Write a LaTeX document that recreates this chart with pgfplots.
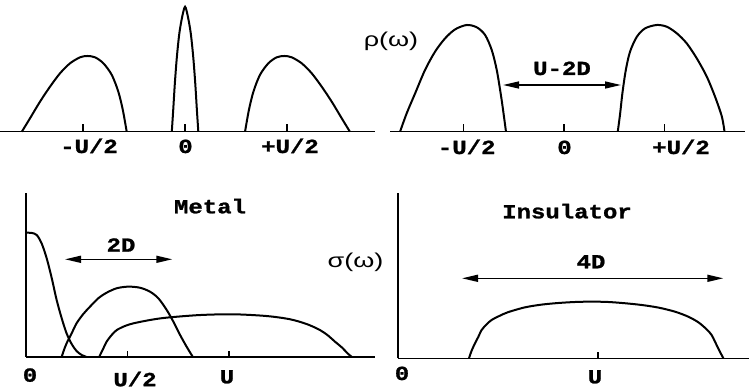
\documentclass[border=0pt]{standalone}
\usepackage{pgfplots}
\pgfplotsset{compat=1.18}
\usetikzlibrary{arrows.meta}
\usepackage{fontspec}
\setmainfont{Liberation Serif}
\newfontfamily\labfont{Liberation Mono}[FakeStretch=1.2, BoldFeatures={FakeBold=1.2}]
\newfontfamily\grkfont{Liberation Sans}[FakeStretch=1.35]
\newcommand\lab{\labfont\bfseries\fontsize{20}{22}\selectfont}
\newcommand\grk{\grkfont\fontsize{20}{22}\selectfont}

\pgfplotsset{
  panel/.style={scale only axis, anchor=south west, clip=false,
    axis x line=bottom, axis y line=none, axis line style={-, line width=1.6pt},
    ymin=0, ytick=\empty, xticklabels=\empty, xtick align=inside,
    major tick length=8pt, tick style={line width=1.5pt, black}},
  spect/.style={scale only axis, anchor=south west, clip=false,
    axis lines=left, axis line style={-, line width=1.6pt},
    ymin=0, xmin=0, ytick=\empty, xticklabels=\empty, xtick align=inside,
    major tick length=6pt, tick style={line width=1.5pt, black}},
  curve/.style={black, line width=2pt, smooth, no marks},
}
\tikzset{dbl/.style={line width=1.5pt,
  {Triangle[length=16pt,width=7pt]}-{Triangle[length=16pt,width=7pt]}}}

\begin{document}
\begin{tikzpicture}
% rho(omega), metal: two Hubbard bands + quasiparticle peak
\begin{axis}[panel, at={(0pt,257.3pt)}, width=375pt, height=131.7pt,
  xmin=-0.907, xmax=0.931, ymax=1.054, xtick={-0.5,0,0.5}]
  \addplot[curve] coordinates {(-0.800,0) (-0.760,0.107) (-0.711,0.240) (-0.662,0.360)
    (-0.613,0.467) (-0.564,0.547) (-0.515,0.595) (-0.479,0.606) (-0.441,0.595)
    (-0.400,0.547) (-0.359,0.454) (-0.327,0.320) (-0.305,0.174) (-0.286,0)};
  \addplot[curve] coordinates {(-0.065,0) (-0.058,0.174) (-0.050,0.387) (-0.040,0.600)
    (-0.028,0.787) (-0.014,0.920) (0,1.0) (0.014,0.920) (0.028,0.787) (0.040,0.600)
    (0.050,0.387) (0.058,0.174) (0.065,0)};
  \addplot[curve] coordinates {(0.294,0) (0.313,0.174) (0.335,0.320) (0.367,0.454)
    (0.408,0.547) (0.449,0.595) (0.487,0.606) (0.523,0.595) (0.572,0.547)
    (0.621,0.467) (0.670,0.360) (0.719,0.240) (0.768,0.107) (0.808,0)};
\end{axis}
% rho(omega), insulator: gap U-2D
\begin{axis}[panel, at={(390pt,257.3pt)}, width=355pt, height=131.7pt,
  xmin=-0.866, xmax=0.900, ymax=1.054, xtick={-0.5,0,0.5}]
  \addplot[curve] coordinates {(-0.816,0) (-0.783,0.147) (-0.741,0.307) (-0.692,0.493)
    (-0.642,0.640) (-0.592,0.747) (-0.542,0.819) (-0.484,0.854) (-0.434,0.835)
    (-0.393,0.774) (-0.360,0.654) (-0.335,0.494) (-0.313,0.280) (-0.299,0.120) (-0.289,0)};
  \addplot[curve] coordinates {(0.267,0) (0.279,0.147) (0.290,0.307) (0.307,0.493)
    (0.328,0.640) (0.362,0.760) (0.403,0.827) (0.461,0.854) (0.511,0.840) (0.561,0.787)
    (0.610,0.707) (0.660,0.587) (0.710,0.440) (0.751,0.280) (0.785,0.120) (0.798,0)};
\end{axis}
% sigma(omega), metal
\begin{axis}[spect, at={(26pt,32.3pt)}, width=349pt, height=163.7pt,
  xmax=1.719, ymax=1.32, xtick={0.5,1}]
  \addplot[curve] coordinates {(0,1.0) (0.028,0.998) (0.053,0.981) (0.077,0.914)
    (0.102,0.793) (0.127,0.632) (0.151,0.457) (0.176,0.309) (0.200,0.188)
    (0.225,0.102) (0.249,0.046) (0.274,0.014) (0.296,0)};
  \addplot[curve] coordinates {(0.176,0) (0.187,0.054) (0.200,0.108) (0.225,0.189)
    (0.249,0.269) (0.282,0.344) (0.315,0.403) (0.356,0.471) (0.397,0.516) (0.447,0.552)
    (0.504,0.565) (0.562,0.556) (0.611,0.524) (0.652,0.471) (0.693,0.377) (0.726,0.282)
    (0.759,0.175) (0.791,0.081) (0.821,0)};
  \addplot[curve] coordinates {(0.361,0) (0.381,0.067) (0.397,0.121) (0.422,0.175)
    (0.447,0.215) (0.488,0.248) (0.529,0.269) (0.611,0.296) (0.693,0.315) (0.857,0.336)
    (1.021,0.342) (1.185,0.328) (1.300,0.302) (1.383,0.263) (1.448,0.215) (1.489,0.169)
    (1.522,0.121) (1.555,0.076) (1.587,0.022) (1.604,0)};
\end{axis}
% sigma(omega), insulator
\begin{axis}[spect, at={(398pt,30.7pt)}, width=351pt, height=165.3pt,
  xmax=1.755, ymax=1.333, xtick={1}]
  \addplot[curve] coordinates {(0.355,0) (0.368,0.061) (0.385,0.121) (0.402,0.174)
    (0.418,0.228) (0.443,0.274) (0.468,0.309) (0.510,0.344) (0.552,0.373) (0.635,0.411)
    (0.718,0.433) (0.802,0.446) (0.885,0.454) (0.968,0.457) (1.052,0.454) (1.135,0.444)
    (1.218,0.430) (1.302,0.409) (1.385,0.376) (1.452,0.335) (1.502,0.290) (1.543,0.234)
    (1.568,0.188) (1.585,0.134) (1.605,0.067) (1.627,0)};
\end{axis}

% tick labels
\begin{scope}[every node/.style={anchor=base, inner sep=0pt, font=\lab}]
  \node at (89pt,236pt) {-U/2};
  \node at (185.5pt,236pt) {0};
  \node at (290pt,236pt) {+U/2};
  \node at (466.7pt,235pt) {-U/2};
  \node at (564.5pt,235pt) {0};
  \node at (681pt,235pt) {+U/2};
  \node at (30pt,7.3pt) {0};
  \node at (135pt,2.8pt) {U/2};
  \node at (227pt,5.7pt) {U};
  \node at (402pt,9pt) {0};
  \node at (595pt,5.7pt) {U};
  % annotations
  \node at (562pt,314pt) {U-2D};
  \node at (210pt,175.7pt) {Metal};
  \node at (121pt,137.3pt) {2D};
  \node at (591pt,120.7pt) {4D};
  \node at (567pt,170.7pt) {Insulator};
\end{scope}
\node[font=\grk, inner sep=0pt] at (391pt,348pt) {ρ(ω)};
\node[font=\grk, inner sep=0pt] at (355.5pt,126.3pt) {σ(ω)};
\draw[dbl] (503pt,304pt) -- (621pt,304pt);
\draw[dbl] (65pt,129.7pt) -- (172.3pt,129.7pt);
\draw[dbl] (462pt,110.7pt) -- (723.3pt,110.7pt);

\pgfresetboundingbox
\useasboundingbox (0pt,0pt) rectangle (749pt,389pt);
\end{tikzpicture}
\end{document}
